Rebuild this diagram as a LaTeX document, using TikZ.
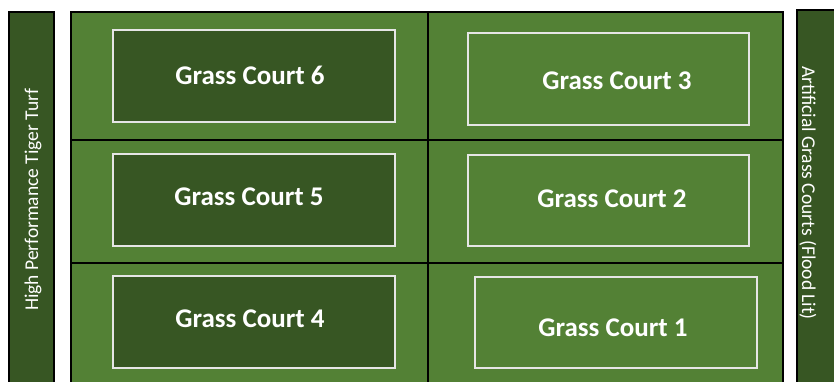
\documentclass[tikz,border=0pt]{standalone}
\usepackage{fontspec}
\setmainfont{Carlito}
\definecolor{field}{HTML}{538135}
\definecolor{darkturf}{HTML}{375623}
\definecolor{courtline}{HTML}{E6E6E6}
\begin{document}
\begin{tikzpicture}[x=1pt,y=-1pt,
  bar/.style={fill=darkturf,draw=black,line width=2pt},
  court/.style={draw=courtline,line width=1.3pt,inner sep=0pt,outer sep=0pt},
  darkcourt/.style={court,fill=darkturf},
  lightcourt/.style={court,fill=field},
  courtlabel/.style={text=white,font=\bfseries\fontsize{27}{31}\selectfont,inner sep=0pt},
  sidelabel/.style={text=white,font=\fontsize{19.5}{23}\selectfont,inner sep=0pt},
  divider/.style={draw=black,line width=2pt}]
\useasboundingbox (0,0) rectangle (834,381);
\clip (0,0) rectangle (834,381);
% side bars
\draw[bar] (9,12) rectangle (54,395);
\draw[bar] (797,10) rectangle (850,395);
% main field
\draw[fill=field,draw=black,line width=2pt] (71,12) rectangle (783,395);
\coordinate (hl1) at (71,140);
\coordinate (hr1) at (783,140);
\coordinate (hl2) at (71,263);
\coordinate (hr2) at (783,263);
\coordinate (vt) at (428,12);
\coordinate (vb) at (428,395);
\draw[divider] (hl1) -- (hr1);
\draw[divider] (hl2) -- (hr2);
\draw[divider] (vt) -- (vb);
% courts
\draw[darkcourt] (113,30) rectangle (395,122);
\draw[lightcourt] (468,33) rectangle (749,125);
\draw[darkcourt] (113,154) rectangle (395,246);
\draw[lightcourt] (468,155) rectangle (749,246);
\draw[darkcourt] (113,276) rectangle (395,368);
\draw[lightcourt] (475,277) rectangle (757,368);
% labels
\node[courtlabel] (c6) at (250,75) {Grass Court 6};
\node[courtlabel] (c3) at (617,81) {Grass Court 3};
\node[courtlabel] (c5) at (249,197) {Grass Court 5};
\node[courtlabel] (c2) at (612,199) {Grass Court 2};
\node[courtlabel] (c4) at (250,319) {Grass Court 4};
\node[courtlabel] (c1) at (613,328) {Grass Court 1};
\node[sidelabel,rotate=90] (left) at (33,200) {High Performance Tiger Turf};
\node[sidelabel,rotate=-90] (right) at (808,193) {Artificial Grass Courts (Flood Lit)};
\end{tikzpicture}
\end{document}
